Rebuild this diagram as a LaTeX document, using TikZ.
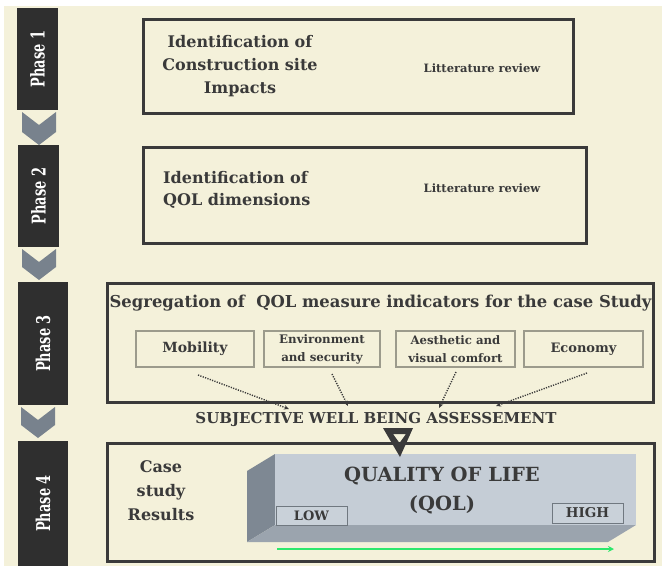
\documentclass[tikz,border=0pt]{standalone}
\usepackage{fontspec}
\setmainfont{DejaVu Serif}
\usetikzlibrary{arrows.meta,calc}
\definecolor{bg}{HTML}{F4F1DA}
\definecolor{ink}{HTML}{3A3A3A}
\definecolor{phasec}{HTML}{2F2F2F}
\definecolor{chev}{HTML}{78828D}
\definecolor{thinc}{HTML}{9C9B8C}
\definecolor{frontc}{HTML}{C5CDD6}
\definecolor{sidec}{HTML}{7E8893}
\definecolor{botc}{HTML}{9BA4AE}
\definecolor{lboxc}{HTML}{C9D1D9}
\definecolor{lboxd}{HTML}{707880}
\definecolor{qgreen}{HTML}{2EE86C}
\newcommand{\fs}[2]{\bfseries\fontsize{#1}{#2}\selectfont}
\begin{document}
\begin{tikzpicture}[x=1pt,y=-1pt,
  bigbox/.style={draw=ink, line width=3pt, inner sep=0pt},
  smallbox/.style={draw=thinc, line width=1.5pt, inner sep=0pt, minimum height=36pt},
  phasebox/.style={fill=phasec, inner sep=0pt},
  txt/.style={text=ink, inner sep=0pt},
  chevron/.style={fill=chev},
  dotarrow/.style={ink, line width=1.4pt, dash pattern=on 1.2pt off 1.3pt, -{Stealth[length=5pt,width=4.5pt]}},
  lh/.style={draw=lboxd, line width=1pt, fill=lboxc, inner sep=0pt}]
\useasboundingbox (0,0) rectangle (662,566);
\fill[white] (0,0) rectangle (662,566);
\fill[bg] (4,6) rectangle (662,566);

% phase column
\node[phasebox, minimum width=41pt, minimum height=102pt] (p1) at (37.5,59) {};
\node[phasebox, minimum width=41pt, minimum height=102pt] (p2) at (38.5,196) {};
\node[phasebox, minimum width=50pt, minimum height=123pt] (p3) at (43,343.5) {};
\node[phasebox, minimum width=50pt, minimum height=125pt] (p4) at (43,503.5) {};
\foreach \n/\l in {p1/1,p2/2,p3/3,p4/4}
  \node[rotate=90, text=white, inner sep=0pt, font=\fs{19}{19}] at (\n) {\scalebox{0.68}[1]{Phase \l}};

\fill[chevron] (22,112) -- (39,125) -- (56,112) -- (56,132) -- (39,145) -- (22,132) -- cycle;
\fill[chevron] (22,249) -- (39,262) -- (56,249) -- (56,267) -- (39,280) -- (22,267) -- cycle;
\fill[chevron] (21,407) -- (38,420) -- (55,407) -- (55,425) -- (38,438) -- (21,425) -- cycle;

% phase 1 and 2
\node[bigbox, minimum width=430pt, minimum height=94pt] (b1) at (358,66) {};
\node[txt, font=\fs{16}{23}, align=center] (t1) at (240,66) {Identification of\\Construction site\\Impacts};
\node[txt, font=\fs{11.5}{14}] (l1) at (482,68) {Litterature review};

\node[bigbox, minimum width=443pt, minimum height=96pt] (b2) at (364.5,195) {};
\node[txt, font=\fs{16}{22}, align=left, anchor=west] (t2) at (163,190) {Identification of\\QOL dimensions};
\node[txt, font=\fs{11.5}{14}] (l2) at (482,188) {Litterature review};

% phase 3
\node[bigbox, minimum width=546pt, minimum height=119pt] (b3) at (380,342.5) {};
\node[txt, font=\fs{16.4}{18}] (t3) at (380.5,303) {Segregation of\ \ QOL measure indicators for the case Study};
\node[smallbox, minimum width=118pt] (mob) at (195,349) {};
\node[smallbox, minimum width=116pt] (env) at (322,349) {};
\node[smallbox, minimum width=119pt] (aes) at (455.5,349) {};
\node[smallbox, minimum width=119pt] (eco) at (583.5,349) {};
\node[txt, font=\fs{14}{16}] at (mob) {Mobility};
\node[txt, font=\fs{11.8}{18}, align=center] at (env) {Environment\\and security};
\node[txt, font=\fs{11.7}{18}, align=center] at (aes) {Aesthetic and\\visual comfort};
\node[txt, font=\fs{13}{16}] at (eco) {Economy};

\node[txt, font=\fs{15}{16}] (swb) at (376,419) {SUBJECTIVE WELL BEING ASSESSEMENT};

\coordinate (s1) at (198,375); \coordinate (e1) at (289,409);
\coordinate (s2) at (332,374); \coordinate (e2) at (348,406);
\coordinate (s3) at (456,372); \coordinate (e3) at (439,408);
\coordinate (s4) at (587,373); \coordinate (e4) at (496,406);
\draw[dotarrow] (s1) -- (e1);
\draw[dotarrow] (s2) -- (e2);
\draw[dotarrow] (s3) -- (e3);
\draw[dotarrow] (s4) -- (e4);

% phase 4
\node[bigbox, minimum width=547pt, minimum height=118pt] (b4) at (380.5,502) {};
\node[txt, font=\fs{16}{24}, align=center] (cs) at (161,491) {Case\\study\\Results};

% 3D bar
\fill[sidec] (275,454) -- (275,525) -- (247,542) -- (247,471) -- cycle;
\fill[botc] (275,525) -- (636,525) -- (608,542) -- (247,542) -- cycle;
\fill[frontc] (275,454) rectangle (636,525);
\node[txt, font=\fs{19.5}{29}, align=center] (qol) at (442,491) {QUALITY OF LIFE\\(QOL)};
\node[lh, minimum width=71pt, minimum height=19pt] (low) at (311.5,515.5) {};
\node[txt, font=\fs{13}{14}] at (low) {LOW};
\node[lh, minimum width=71pt, minimum height=20pt] (high) at (587.5,513) {};
\node[txt, font=\fs{13.5}{14}] at (high) {HIGH};
\coordinate (g1) at (277,549); \coordinate (g2) at (614,549);
\draw[qgreen, line width=2.2pt, -{Stealth[length=6pt,width=6pt]}] (g1) -- (g2);

% triangle
\fill[ink, even odd rule] (383,428) -- (413,428) -- (400,457) -- cycle
  (393,434) -- (406,434) -- (399.5,443) -- cycle;
\end{tikzpicture}
\end{document}
